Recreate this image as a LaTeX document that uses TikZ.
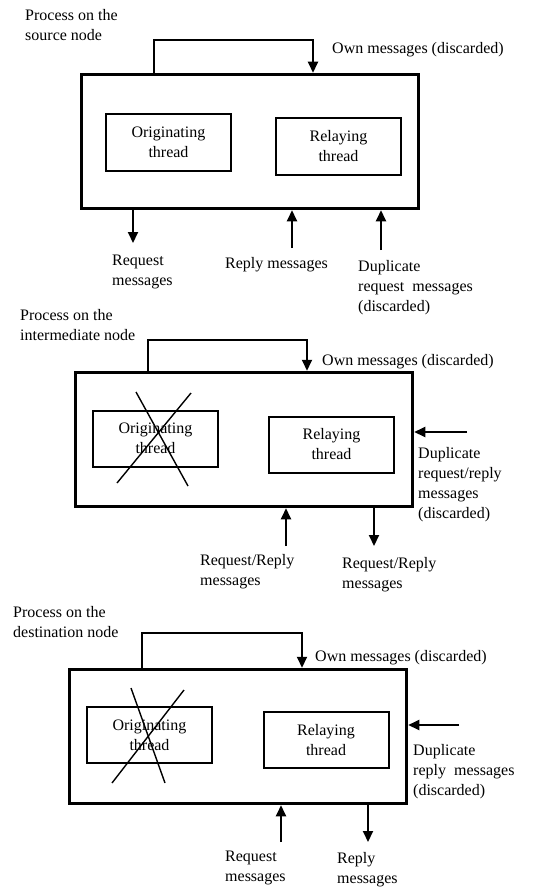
\documentclass[tikz,border=0pt]{standalone}
\usepackage{fontspec}
\setmainfont{Liberation Serif}
\usetikzlibrary{arrows.meta}
\begin{document}
\begin{tikzpicture}[x=1pt, y=-1pt, font=\fontsize{16}{20}\selectfont]
  \useasboundingbox (0,0) rectangle (553,888);
  \tikzstyle{proc}=[draw, line width=3.5pt, minimum width=337pt, minimum height=134pt, inner sep=0pt]
  \tikzstyle{thread}=[draw, line width=2pt, minimum width=125pt, minimum height=56pt, align=center, inner sep=0pt]
  \tikzstyle{txt}=[anchor=west, align=left, inner sep=0pt]
  \tikzstyle{flow}=[line width=2pt, -{Triangle[length=11pt, width=10pt]}]
  \tikzstyle{cross}=[line width=1.4pt]

  % source node
  \node[txt] (title1) at (25,25) {Process on the\\source node};
  \node[proc] (proc1) at (250,141.5) {};
  \node[thread] (orig1) at (168.5,142.5) {Originating\\thread};
  \node[thread] (relay1) at (338.5,146.5) {Relaying\\thread};
  \coordinate (own1) at (154,40);
  \coordinate (own1e) at (313,40);
  \coordinate (req1) at (133,243);
  \coordinate (rep1) at (292,248);
  \coordinate (dup1) at (381,250);
  \draw[flow] (own1 |- proc1.north) -- (own1) -- (own1e) -- (own1e |- proc1.north);
  \draw[flow] (req1 |- proc1.south) -- (req1);
  \draw[flow] (rep1) -- (rep1 |- proc1.south);
  \draw[flow] (dup1) -- (dup1 |- proc1.south);
  \node[txt] (ownlab1) at (332,50) {Own messages (discarded)};
  \node[txt] (reqlab1) at (112,272) {Request\\messages};
  \node[txt] (replab1) at (225,265) {Reply messages};
  \node[txt] (duplab1) at (358,288) {Duplicate\\request~ messages\\(discarded)};

  % intermediate node
  \node[txt] (title2) at (20,325) {Process on the\\intermediate node};
  \node[proc] (proc2) at (244,439.5) {};
  \node[thread] (orig2) at (155.5,438.5) {Originating\\thread};
  \node[thread] (relay2) at (331.5,444.5) {Relaying\\thread};
  \draw[cross] (136,392) -- (188,486);
  \draw[cross] (191,393) -- (117,483);
  \coordinate (own2) at (148,340);
  \coordinate (own2e) at (307,340);
  \coordinate (dup2) at (467,432);
  \coordinate (rrin2) at (286,546);
  \coordinate (rrout2) at (374,546);
  \draw[flow] (own2 |- proc2.north) -- (own2) -- (own2e) -- (own2e |- proc2.north);
  \draw[flow] (dup2) -- (dup2 -| proc2.east);
  \draw[flow] (rrin2) -- (rrin2 |- proc2.south);
  \draw[flow] (rrout2 |- proc2.south) -- (rrout2);
  \node[txt] (ownlab2) at (322,362) {Own messages (discarded)};
  \node[txt] (duplab2) at (418,485) {Duplicate\\request/reply\\messages\\(discarded)};
  \node[txt] (rrinlab2) at (200,572) {Request/Reply\\messages};
  \node[txt] (rroutlab2) at (342,575) {Request/Reply\\messages};

  % destination node
  \node[txt] (title3) at (13,622) {Process on the\\destination node};
  \node[proc] (proc3) at (238,736.5) {};
  \node[thread] (orig3) at (149.5,735) {Originating\\thread};
  \node[thread] (relay3) at (326,740) {Relaying\\thread};
  \draw[cross] (131,688) -- (165,783);
  \draw[cross] (184,690) -- (112,783);
  \coordinate (own3) at (142,633);
  \coordinate (own3e) at (302,633);
  \coordinate (dup3) at (459,725);
  \coordinate (req3) at (281,842);
  \coordinate (rep3) at (368,842);
  \draw[flow] (own3 |- proc3.north) -- (own3) -- (own3e) -- (own3e |- proc3.north);
  \draw[flow] (dup3) -- (dup3 -| proc3.east);
  \draw[flow] (req3) -- (req3 |- proc3.south);
  \draw[flow] (rep3 |- proc3.south) -- (rep3);
  \node[txt] (ownlab3) at (315,658) {Own messages (discarded)};
  \node[txt] (duplab3) at (413,772) {Duplicate\\reply~ messages\\(discarded)};
  \node[txt] (reqlab3) at (225,868) {Request\\messages};
  \node[txt] (replab3) at (337,870) {Reply\\messages};
\end{tikzpicture}
\end{document}
